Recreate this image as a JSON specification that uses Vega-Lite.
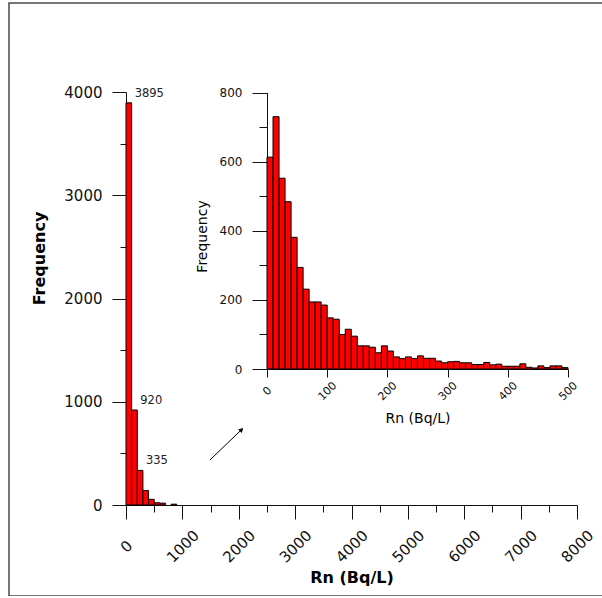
{
  "$schema": "https://vega.github.io/schema/vega-lite/v6.json",
  "width": 600,
  "height": 593,
  "padding": {"left": 9, "top": 3, "right": 0, "bottom": 0},
  "autosize": {"type": "none"},
  "background": "white",
  "config": {
    "view": {"stroke": "#4a4a4a", "strokeWidth": 1.5},
    "axis": {
      "grid": false,
      "domainColor": "#111",
      "tickColor": "#111",
      "labelColor": "#111",
      "titleColor": "#000",
      "labelFont": "DejaVu Sans",
      "titleFont": "DejaVu Sans",
      "labelFlush": false,
      "labelOverlap": false,
      "format": "d"
    }
  },
  "datasets": {
    "main": [
      {"bin_start": 0, "bin_end": 100, "count": 3895, "label": "3895"},
      {"bin_start": 100, "bin_end": 200, "count": 920, "label": "920"},
      {"bin_start": 200, "bin_end": 300, "count": 335, "label": "335"},
      {"bin_start": 300, "bin_end": 400, "count": 140, "label": null},
      {"bin_start": 400, "bin_end": 500, "count": 55, "label": null},
      {"bin_start": 500, "bin_end": 600, "count": 22, "label": null},
      {"bin_start": 600, "bin_end": 700, "count": 18, "label": null},
      {"bin_start": 800, "bin_end": 900, "count": 8, "label": null}
    ],
    "inset": [
      {"bin_start": 0, "bin_end": 10, "count": 613},
      {"bin_start": 10, "bin_end": 20, "count": 730},
      {"bin_start": 20, "bin_end": 30, "count": 552},
      {"bin_start": 30, "bin_end": 40, "count": 484},
      {"bin_start": 40, "bin_end": 50, "count": 381},
      {"bin_start": 50, "bin_end": 60, "count": 294},
      {"bin_start": 60, "bin_end": 70, "count": 231},
      {"bin_start": 70, "bin_end": 80, "count": 194},
      {"bin_start": 80, "bin_end": 90, "count": 194},
      {"bin_start": 90, "bin_end": 100, "count": 185},
      {"bin_start": 100, "bin_end": 110, "count": 148},
      {"bin_start": 110, "bin_end": 120, "count": 144},
      {"bin_start": 120, "bin_end": 130, "count": 100},
      {"bin_start": 130, "bin_end": 140, "count": 115},
      {"bin_start": 140, "bin_end": 150, "count": 95},
      {"bin_start": 150, "bin_end": 160, "count": 67},
      {"bin_start": 160, "bin_end": 170, "count": 67},
      {"bin_start": 170, "bin_end": 180, "count": 63},
      {"bin_start": 180, "bin_end": 190, "count": 47},
      {"bin_start": 190, "bin_end": 200, "count": 67},
      {"bin_start": 200, "bin_end": 210, "count": 52},
      {"bin_start": 210, "bin_end": 220, "count": 35},
      {"bin_start": 220, "bin_end": 230, "count": 30},
      {"bin_start": 230, "bin_end": 240, "count": 35},
      {"bin_start": 240, "bin_end": 250, "count": 30},
      {"bin_start": 250, "bin_end": 260, "count": 38},
      {"bin_start": 260, "bin_end": 270, "count": 31},
      {"bin_start": 270, "bin_end": 280, "count": 31},
      {"bin_start": 280, "bin_end": 290, "count": 23},
      {"bin_start": 290, "bin_end": 300, "count": 18},
      {"bin_start": 300, "bin_end": 310, "count": 21},
      {"bin_start": 310, "bin_end": 320, "count": 22},
      {"bin_start": 320, "bin_end": 330, "count": 18},
      {"bin_start": 330, "bin_end": 340, "count": 18},
      {"bin_start": 340, "bin_end": 350, "count": 13},
      {"bin_start": 350, "bin_end": 360, "count": 13},
      {"bin_start": 360, "bin_end": 370, "count": 19},
      {"bin_start": 370, "bin_end": 380, "count": 12},
      {"bin_start": 380, "bin_end": 390, "count": 14},
      {"bin_start": 390, "bin_end": 400, "count": 8},
      {"bin_start": 400, "bin_end": 410, "count": 8},
      {"bin_start": 410, "bin_end": 420, "count": 8},
      {"bin_start": 420, "bin_end": 430, "count": 15},
      {"bin_start": 430, "bin_end": 440, "count": 5},
      {"bin_start": 440, "bin_end": 450, "count": 3},
      {"bin_start": 450, "bin_end": 460, "count": 9},
      {"bin_start": 460, "bin_end": 470, "count": 4},
      {"bin_start": 470, "bin_end": 480, "count": 9},
      {"bin_start": 480, "bin_end": 490, "count": 9},
      {"bin_start": 490, "bin_end": 500, "count": 4}
    ]
  },
  "resolve": {
    "scale": {"x": "independent", "y": "independent"},
    "axis": {"x": "independent", "y": "independent"}
  },
  "layer": [
    {
      "data": {"name": "main"},
      "mark": {"type": "bar", "fill": "#ff0000", "stroke": "#000", "strokeWidth": 1},
      "encoding": {
        "x": {
          "field": "bin_start", "type": "quantitative",
          "scale": {"domain": [0, 8000], "range": [117, 568], "nice": false},
          "axis": {
            "orient": "bottom", "offset": -91,
            "values": [0, 1000, 2000, 3000, 4000, 5000, 6000, 7000, 8000],
            "tickSize": 14, "labelFontSize": 15, "labelAngle": -45,
            "labelAlign": "center", "labelBaseline": "middle", "labelPadding": 27,
            "title": "Rn (Bq/L)", "titleFontSize": 16, "titleFontWeight": "bold",
            "titleY": 72, "titleBaseline": "middle"
          }
        },
        "x2": {"field": "bin_end"},
        "y": {
          "field": "count", "type": "quantitative",
          "scale": {"domain": [0, 4000], "range": [502, 89], "nice": false},
          "axis": {
            "orient": "left", "offset": -117,
            "values": [0, 1000, 2000, 3000, 4000],
            "tickSize": 14, "labelFontSize": 15, "labelPadding": 10,
            "title": "Frequency", "titleFontSize": 16, "titleFontWeight": "bold",
            "titleX": -87, "titleY": 255, "titleBaseline": "middle", "titleAlign": "center"
          }
        },
        "y2": {"datum": 0}
      }
    },
    {
      "data": {"name": "main"},
      "transform": [{"filter": "isValid(datum.label)"}],
      "mark": {"type": "text", "align": "left", "baseline": "middle", "dx": 3, "dy": -9, "fontSize": 11.5, "font": "DejaVu Sans", "color": "#222"},
      "encoding": {
        "x": {"field": "bin_end", "type": "quantitative", "scale": {"domain": [0, 8000], "range": [117, 568], "nice": false}, "axis": null},
        "y": {"field": "count", "type": "quantitative", "scale": {"domain": [0, 4000], "range": [502, 89], "nice": false}, "axis": null},
        "text": {"field": "label"}
      }
    },
    {
      "data": {"values": [{}]},
      "mark": {"type": "rule", "color": "#000", "strokeWidth": 1},
      "encoding": {
        "x": {"datum": 1490, "type": "quantitative", "scale": {"domain": [0, 8000], "range": [117, 568], "nice": false}, "axis": null},
        "x2": {"datum": 2050},
        "y": {"datum": 436, "type": "quantitative", "scale": {"domain": [0, 4000], "range": [502, 89], "nice": false}, "axis": null},
        "y2": {"datum": 730}
      }
    },
    {
      "data": {"values": [{}]},
      "mark": {"type": "point", "shape": "triangle-up", "filled": true, "color": "#000", "size": 28, "angle": 45, "opacity": 1},
      "encoding": {
        "x": {"datum": 2050, "type": "quantitative", "scale": {"domain": [0, 8000], "range": [117, 568], "nice": false}, "axis": null},
        "y": {"datum": 730, "type": "quantitative", "scale": {"domain": [0, 4000], "range": [502, 89], "nice": false}, "axis": null}
      }
    },
    {
      "data": {"name": "main"},
      "mark": {"type": "point", "opacity": 0},
      "encoding": {
        "x": {
          "field": "bin_start", "type": "quantitative",
          "scale": {"domain": [0, 8000], "range": [117, 568], "nice": false},
          "axis": {"orient": "bottom", "offset": -91, "values": [500, 1500, 2500, 3500, 4500, 5500, 6500, 7500], "tickSize": 7, "labels": false, "domain": false, "title": null}
        },
        "y": {
          "field": "count", "type": "quantitative",
          "scale": {"domain": [0, 4000], "range": [502, 89], "nice": false},
          "axis": {"orient": "left", "offset": -117, "values": [500, 1500, 2500, 3500], "tickSize": 6, "labels": false, "domain": false, "title": null}
        }
      }
    },
    {
      "data": {"name": "inset"},
      "mark": {"type": "bar", "fill": "#ff0000", "stroke": "#000", "strokeWidth": 1},
      "encoding": {
        "x": {
          "field": "bin_start", "type": "quantitative",
          "scale": {"domain": [0, 500], "range": [258, 559], "nice": false},
          "axis": {
            "orient": "bottom", "offset": -227,
            "values": [0, 100, 200, 300, 400, 500],
            "tickSize": 8, "labelFontSize": 11, "labelAngle": -45,
            "labelAlign": "center", "labelBaseline": "middle", "labelPadding": 14,
            "title": "Rn (Bq/L)", "titleFontSize": 14, "titleFontWeight": "normal",
            "titleY": 49, "titleBaseline": "middle"
          }
        },
        "x2": {"field": "bin_end"},
        "y": {
          "field": "count", "type": "quantitative",
          "scale": {"domain": [0, 800], "range": [366, 89.5], "nice": false},
          "axis": {
            "orient": "left", "offset": -258,
            "values": [0, 200, 400, 600, 800],
            "tickSize": 15, "labelFontSize": 12, "labelPadding": 10,
            "title": "Frequency", "titleFontSize": 14, "titleFontWeight": "normal",
            "titleX": -65, "titleY": 233, "titleBaseline": "middle", "titleAlign": "center"
          }
        },
        "y2": {"datum": 0}
      }
    },
    {
      "data": {"name": "inset"},
      "mark": {"type": "point", "opacity": 0},
      "encoding": {
        "x": {
          "field": "bin_start", "type": "quantitative",
          "scale": {"domain": [0, 500], "range": [258, 559], "nice": false},
          "axis": null
        },
        "y": {
          "field": "count", "type": "quantitative",
          "scale": {"domain": [0, 800], "range": [366, 89.5], "nice": false},
          "axis": {"orient": "left", "offset": -258, "values": [100, 300, 500, 700], "tickSize": 8, "labels": false, "domain": false, "title": null}
        }
      }
    }
  ]
}
